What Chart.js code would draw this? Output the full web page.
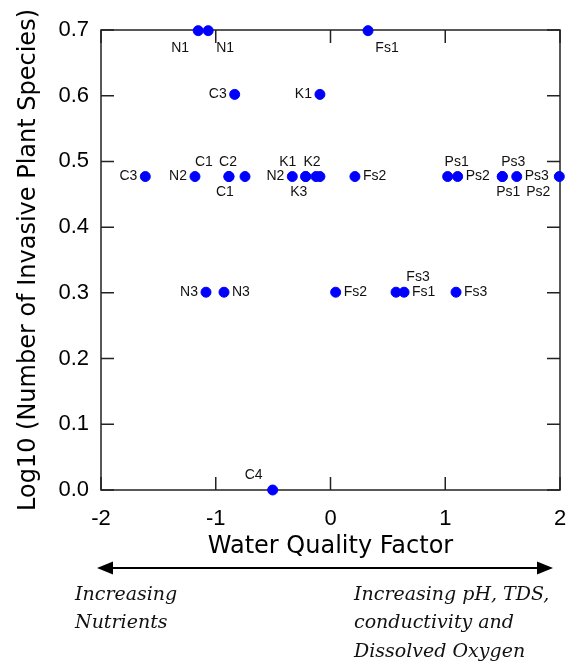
<!DOCTYPE html>
<html>
<head>
<meta charset="utf-8">
<script src="https://cdn.jsdelivr.net/npm/chart.js@4.4.1/dist/chart.umd.min.js"></script>
<style>
  html, body { margin: 0; padding: 0; background: #fff; }
  #wrap { width: 578px; height: 669px; }
</style>
</head>
<body>
<div id="wrap"><canvas id="chart" width="578" height="669"></canvas></div>
<script>
// site samples
var siteLabels = ['N1', 'N1', 'Fs1',
                  'C3', 'K1',
                  'C3', 'N2', 'C1', 'C1', 'C2', 'N2', 'K1', 'K3', 'K2', '', 'Fs2',
                  'Ps1', 'Ps2', 'Ps1', 'Ps3', 'Ps3', 'Ps2',
                  'N3', 'N3', 'Fs2', 'Fs3', 'Fs1', 'Fs3',
                  'C4'];
var waterQuality = [-1.153, -1.066, 0.327,
                    -0.835, -0.092,
                    -1.614, -1.181, -0.885, -0.885, -0.745, -0.333, -0.216, -0.216, -0.126, -0.092, 0.213,
                    1.021, 1.108, 1.497, 1.497, 1.623, 1.994,
                    -1.085, -0.928, 0.045, 0.571, 0.641, 1.094,
                    -0.504];
var logSpecies = [0.699, 0.699, 0.699,
                  0.602, 0.602,
                  0.477, 0.477, 0.477, 0.477, 0.477, 0.477, 0.477, 0.477, 0.477, 0.477, 0.477,
                  0.477, 0.477, 0.477, 0.477, 0.477, 0.477,
                  0.301, 0.301, 0.301, 0.301, 0.301, 0.301,
                  0.0];
var xTicks = [-2, -1, 0, 1, 2];
var yTicks = [0, 0.1, 0.2, 0.3, 0.4, 0.5, 0.6, 0.7];

// where each point label sits relative to its dot: [dx, dy, align]
var L = [-8, 0, 'right'], R = [8, 0, 'left'];
var labelPlace = [[-18, 17, 'center'], [17, 17, 'center'], [19, 17, 'center'],
                  L, L,
                  L, L, [-25, -14, 'center'], [-4, 16, 'center'], [-17, -14, 'center'], L,
                  [-18, -14, 'center'], [-7, 16, 'center'], [-4, -14, 'center'], R, R,
                  [9, -14, 'center'], R, [6, 16, 'center'], [11, -14, 'center'], R, [-21, 16, 'center'],
                  L, R, R, [22, -15, 'center'], R, R,
                  [-19, -15, 'center']];

var points = waterQuality.map(function(v, i) {
    return { x: v, y: logSpecies[i] };
});

// box frame with inward ticks on all four sides
var frameTicks = {
    id: 'frameTicks',
    beforeDatasetsDraw: function(chart) {
        var ctx = chart.ctx;
        var a = chart.chartArea;
        var xs = chart.scales.x, ys = chart.scales.y;
        ctx.save();
        ctx.strokeStyle = '#222';
        ctx.lineWidth = 1.5;
        ctx.strokeRect(a.left, a.top, a.right - a.left, a.bottom - a.top);
        ctx.beginPath();
        xTicks.forEach(function(t) {
            var px = xs.getPixelForValue(t);
            ctx.moveTo(px, a.bottom); ctx.lineTo(px, a.bottom - 13);
            ctx.moveTo(px, a.top); ctx.lineTo(px, a.top + 13);
        });
        yTicks.forEach(function(t) {
            var py = ys.getPixelForValue(t);
            ctx.moveTo(a.left, py); ctx.lineTo(a.left + 13, py);
            ctx.moveTo(a.right, py); ctx.lineTo(a.right - 13, py);
        });
        ctx.stroke();
        ctx.restore();
    }
};

// site names next to the dots
var pointLabels = {
    id: 'pointLabels',
    afterDatasetsDraw: function(chart) {
        var ctx = chart.ctx;
        var meta = chart.getDatasetMeta(0);
        ctx.save();
        ctx.font = '14px "Liberation Sans", Arial, sans-serif';
        ctx.fillStyle = '#111';
        ctx.textBaseline = 'middle';
        meta.data.forEach(function(el, i) {
            var p = labelPlace[i];
            if (!siteLabels[i]) return;
            ctx.textAlign = p[2];
            ctx.fillText(siteLabels[i], el.x + p[0], el.y + p[1]);
        });
        ctx.restore();
    }
};

// double arrow and the italic notes under the x axis
var gradientNote = {
    id: 'gradientNote',
    afterDraw: function(chart) {
        var ctx = chart.ctx;
        var y = 568, x0 = 97, x1 = 553;
        ctx.save();
        ctx.strokeStyle = '#000';
        ctx.fillStyle = '#000';
        ctx.lineWidth = 2;
        ctx.beginPath();
        ctx.moveTo(x0 + 10, y); ctx.lineTo(x1 - 10, y);
        ctx.stroke();
        ctx.beginPath();
        ctx.moveTo(x0, y); ctx.lineTo(x0 + 16, y - 6.5); ctx.lineTo(x0 + 16, y + 6.5); ctx.closePath();
        ctx.fill();
        ctx.beginPath();
        ctx.moveTo(x1, y); ctx.lineTo(x1 - 16, y - 6.5); ctx.lineTo(x1 - 16, y + 6.5); ctx.closePath();
        ctx.fill();

        ctx.font = 'italic 19px "DejaVu Serif", "Liberation Serif", serif';
        ctx.textAlign = 'left';
        ctx.textBaseline = 'alphabetic';
        ctx.fillStyle = '#111';
        ctx.fillText('Increasing', 75, 600);
        ctx.fillText('Nutrients', 75, 628);
        ctx.fillText('Increasing pH, TDS,', 354, 600);
        ctx.fillText('conductivity and', 354, 628);
        ctx.fillText('Dissolved Oxygen', 354, 657);
        ctx.restore();
    }
};

var tickFont = { family: '"Liberation Sans", Arial, sans-serif', size: 22 };
var titleFont = { family: '"DejaVu Sans", "Liberation Sans", sans-serif', size: 24 };

new Chart(document.getElementById('chart'), {
    type: 'scatter',
    data: {
        datasets: [{
            data: points,
            backgroundColor: '#0000ff',
            borderColor: '#0000ff',
            pointRadius: 5,
            pointHoverRadius: 5,
            clip: false
        }]
    },
    options: {
        responsive: false,
        animation: false,
        events: [],
        layout: { padding: { left: 0, right: 18, top: 30, bottom: 0 } },
        plugins: {
            legend: { display: false },
            tooltip: { enabled: false }
        },
        scales: {
            x: {
                type: 'linear',
                min: -2,
                max: 2,
                afterBuildTicks: function(s) {
                    s.ticks = xTicks.map(function(v) { return { value: v }; });
                },
                ticks: { color: '#000', font: tickFont, padding: 16, maxRotation: 0 },
                grid: { display: false, drawTicks: false },
                border: { display: false },
                title: {
                    display: true,
                    text: 'Water Quality Factor',
                    color: '#000',
                    font: titleFont,
                    padding: { top: 0, bottom: 108 }
                },
                afterFit: function(s) {
                    s.height = 179;
                    // edge labels fit in the margins already
                    s.paddingLeft = 0;
                    s.paddingRight = 0;
                }
            },
            y: {
                type: 'linear',
                min: 0,
                max: 0.7,
                afterBuildTicks: function(s) {
                    s.ticks = yTicks.map(function(v) { return { value: v }; });
                },
                ticks: {
                    color: '#000',
                    font: tickFont,
                    padding: 12,
                    callback: function(v) { return Number(v).toFixed(1); }
                },
                grid: { display: false, drawTicks: false },
                border: { display: false },
                title: {
                    display: true,
                    text: 'Log10 (Number of Invasive Plant Species)',
                    color: '#000',
                    font: titleFont,
                    padding: { top: 14, bottom: 0 }
                },
                afterFit: function(s) { s.width = 101; }
            }
        }
    },
    plugins: [frameTicks, pointLabels, gradientNote]
});
</script>
</body>
</html>
